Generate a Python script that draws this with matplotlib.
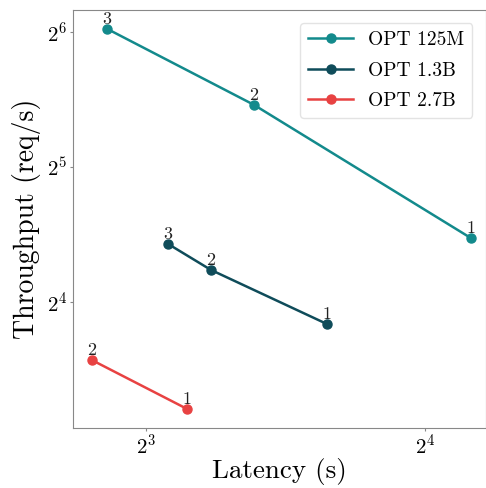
import matplotlib
matplotlib.use("Agg")
import matplotlib.pyplot as plt
from matplotlib.ticker import LogLocator, LogFormatterMathtext, NullLocator

plt.rcParams['font.family'] = 'serif'
plt.rcParams['font.serif'] = ['cmr10']
plt.rcParams['mathtext.fontset'] = 'cm'
plt.rcParams['axes.formatter.use_mathtext'] = True

# latency (s), throughput (req/s), batch label for each point
lat_125m = [7.26, 10.46, 17.94]
thr_125m = [65.0, 44.0, 22.2]
lab_125m = ['3', '2', '1']

lat_13b = [8.45, 9.40, 12.54]
thr_13b = [21.55, 18.86, 14.29]
lab_13b = ['3', '2', '1']

lat_27b = [6.99, 8.86]
thr_27b = [11.88, 9.24]
lab_27b = ['2', '1']

series = [
    ('OPT 125M', lat_125m, thr_125m, lab_125m, '#138a8c'),
    ('OPT 1.3B', lat_13b, thr_13b, lab_13b, '#0f4c5a'),
    ('OPT 2.7B', lat_27b, thr_27b, lab_27b, '#e84242'),
]

fig = plt.figure(figsize=(4.86, 4.88), dpi=100)
ax = fig.add_axes([0.150, 0.123, 0.85, 0.857])

for name, xs, ys, labs, col in series:
    ax.plot(xs, ys, '-o', color=col, lw=1.8, ms=6.5, label=name)
    for x, y, t in zip(xs, ys, labs):
        ax.annotate(t, (x, y), xytext=(0, 1.5), textcoords='offset points',
                    ha='center', va='bottom', fontsize=13, color='#222222')

ax.set_xscale('log', base=2)
ax.set_yscale('log', base=2)
ax.set_xlim(2 ** 2.738, 2 ** 4.219)
ax.set_ylim(2 ** 3.067, 2 ** 6.163)

for a in (ax.xaxis, ax.yaxis):
    a.set_major_locator(LogLocator(base=2))
    a.set_major_formatter(LogFormatterMathtext(base=2))
    a.set_minor_locator(NullLocator())
ax.tick_params(labelsize=15, length=2, pad=2, color='#888888')

for s in ax.spines.values():
    s.set_color('#888888')

ax.set_xlabel('Latency (s)', fontsize=19.5, labelpad=0)
ax.set_ylabel('Throughput (req/s)', fontsize=20, labelpad=4)

leg = ax.legend(loc='upper right', fontsize=14, frameon=True, fancybox=True,
                edgecolor='#dddddd', borderaxespad=0.7, handlelength=2.3,
                labelspacing=0.65)

fig.savefig('out.png', dpi=100)
